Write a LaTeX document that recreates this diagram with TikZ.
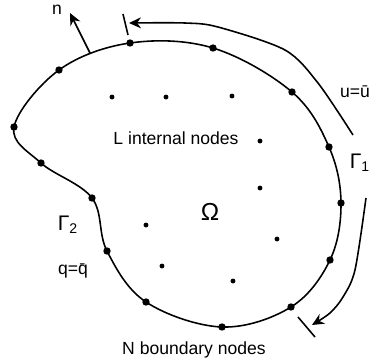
\documentclass[tikz,border=0pt]{standalone}
\usepackage{fontspec}
\setmainfont{Liberation Sans}
\usepackage{tikz}
\usetikzlibrary{arrows.meta}

\begin{document}
\begin{tikzpicture}[
    x=0.02cm, y=-0.02cm,
    line width=0.9pt,
    bnode/.style={circle, fill, inner sep=0pt, minimum size=4.2pt},
    inode/.style={circle, fill, inner sep=0pt, minimum size=2.8pt},
    lbl/.style={font=\fontsize{10}{11}\selectfont, inner sep=0pt},
    arrow/.style={-{Stealth[length=2.4mm, width=2.2mm]}}
]
\useasboundingbox (0,0) rectangle (370,363);
% boundary nodes
\foreach \x/\y [count=\i] in {130/43, 213/48, 292/92, 329/147, 341/203, 330/260, 291/307,
    222/327, 146/302, 107/251, 92/198, 41/163, 14/127, 59/70}
  \node[bnode] (b\i) at (\x,\y) {};
\draw plot[smooth cycle, tension=0.6] coordinates {(b1.center) (b2.center) (b3.center)
    (b4.center) (b5.center) (b6.center) (b7.center) (b8.center) (b9.center) (b10.center)
    (b11.center) (b12.center) (b13.center) (b14.center)};
% internal nodes
\foreach \x/\y [count=\i] in {112/97, 166/97, 232/96, 260/141, 260/188, 146/225, 277/239,
    162/266, 233/281}
  \node[inode] (i\i) at (\x,\y) {};
% normal
\coordinate (nfoot) at (90,53);
\coordinate (ntip) at (70,13);
\draw[arrow] (nfoot) -- (ntip);
\node[lbl] (nlab) at (57,10) {n};
% Gamma 1 arrows
\coordinate (gup) at (353,135);
\coordinate (gupend) at (129,23);
\draw[arrow] plot[smooth] coordinates {(gup) (318,83) (285,50) (218,27) (185,23) (gupend)};
\coordinate (tupa) at (123,14);
\coordinate (tupb) at (128,35);
\draw (tupa) -- (tupb);
\coordinate (glow) at (366,198);
\coordinate (glowend) at (312,325);
\draw[arrow] plot[smooth] coordinates {(glow) (355,270) (343,297) (330,313) (glowend)};
\coordinate (tlowa) at (298,317);
\coordinate (tlowb) at (315,337);
\draw (tlowa) -- (tlowb);
% labels
\node[lbl] (ubar) at (355,92) {u=\=u};
\node[lbl, font=\fontsize{12}{13}\selectfont] (g1) at (360,163) {Γ\textsubscript{1}};
\node[lbl, font=\fontsize{12}{13}\selectfont] (g2) at (68,225) {Γ\textsubscript{2}};
\node[lbl] (qbar) at (73,271) {q=\=q};
\node[lbl] (inner) at (176,138) {L internal nodes};
\node[lbl, font=\fontsize{14}{15}\selectfont] (omega) at (210,212) {Ω};
\node[lbl] (outer) at (194,350) {N boundary nodes};
\end{tikzpicture}
\end{document}
